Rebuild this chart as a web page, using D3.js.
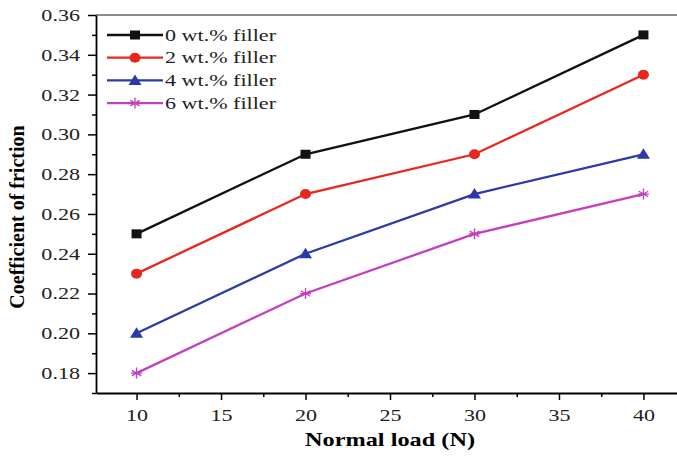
<!DOCTYPE html>
<html>
<head>
<meta charset="utf-8">
<script src="https://cdn.jsdelivr.net/npm/d3@7"></script>
<style>
  body { margin: 0; background: #fff; }
  svg { display: block; }
</style>
</head>
<body>
<div id="chart"></div>
<script>
const loads = [10, 20, 30, 40];
const seriesNames = ['0 wt.% filler', '2 wt.% filler', '4 wt.% filler', '6 wt.% filler'];
const filler0 = [0.25, 0.29, 0.31, 0.35];
const filler2 = [0.23, 0.27, 0.29, 0.33];
const filler4 = [0.20, 0.24, 0.27, 0.29];
const filler6 = [0.18, 0.22, 0.25, 0.27];
const xTicks = [10, 15, 20, 25, 30, 35, 40];
const yTicks = [0.18, 0.20, 0.22, 0.24, 0.26, 0.28, 0.30, 0.32, 0.34, 0.36];

const width = 677;
const height = 458;
const margin = { top: 15, right: -7, bottom: 65, left: 96 };
const font = '"Liberation Serif", "Times New Roman", serif';
const stretch = 1.3; // the source picture is widened horizontally

const colors = ['#111111', '#e8261e', '#2c3aa8', '#c23fc0'];
const symbols = ['square', 'circle', 'triangle', 'star'];
const allSeries = [filler0, filler2, filler4, filler6];

const svg = d3.select('#chart')
  .append('svg')
  .attr('width', width)
  .attr('height', height)
  .style('font-family', font);

const x = d3.scaleLinear()
  .domain([7.6, 42.4])
  .range([margin.left, width - margin.right]);

const y = d3.scaleLinear()
  .domain([0.17, 0.36])
  .range([height - margin.bottom, margin.top]);

// top frame line
svg.append('line')
  .attr('x1', margin.left).attr('x2', width)
  .attr('y1', y(0.36)).attr('y2', y(0.36))
  .attr('stroke', '#666').attr('stroke-width', 1.5);

// minor ticks
const xMinor = d3.range(12.5, 42.6, 5);
svg.append('g')
  .attr('transform', `translate(0, ${y(0.17)})`)
  .call(d3.axisBottom(x).tickValues(xMinor).tickSize(4).tickFormat(''))
  .call(g => g.select('.domain').remove())
  .selectAll('line').attr('stroke-width', 1.5);

const yMinor = d3.range(17, 36, 2).map(v => v / 100);
svg.append('g')
  .attr('transform', `translate(${margin.left}, 0)`)
  .call(d3.axisLeft(y).tickValues(yMinor).tickSize(4).tickFormat(''))
  .call(g => g.select('.domain').remove())
  .selectAll('line').attr('stroke-width', 1.5);

function xAxis(g) {
  g.attr('transform', `translate(0, ${y(0.17)})`)
    .call(d3.axisBottom(x).tickValues(xTicks).tickSize(7).tickPadding(9).tickSizeOuter(0));
  g.select('.domain').attr('stroke-width', 1.8);
  g.selectAll('.tick line').attr('stroke-width', 1.5);
  g.selectAll('.tick text')
    .attr('fill', '#222')
    .style('font-family', font)
    .style('font-size', '17px')
    .attr('transform', `scale(${stretch},1)`);
}

function yAxis(g) {
  g.attr('transform', `translate(${margin.left}, 0)`)
    .call(d3.axisLeft(y).tickValues(yTicks).tickSize(8).tickPadding(8).tickSizeOuter(0)
      .tickFormat(d3.format('.2f')));
  g.select('.domain').attr('stroke-width', 1.8);
  g.selectAll('.tick line').attr('stroke-width', 1.5);
  g.selectAll('.tick text')
    .attr('fill', '#222')
    .style('font-family', font)
    .style('font-size', '17px')
    .attr('x', -16 / stretch)
    .attr('transform', `scale(${stretch},1)`);
}

svg.append('g').call(xAxis);
svg.append('g').call(yAxis);

// axis titles
svg.append('text')
  .attr('transform', `translate(390, 446) scale(1.35,1)`)
  .attr('text-anchor', 'middle')
  .attr('font-weight', 'bold')
  .attr('font-size', '18px')
  .text('Normal load (N)');

svg.append('text')
  .attr('transform', `translate(24, 217) rotate(-90)`)
  .attr('text-anchor', 'middle')
  .attr('font-weight', 'bold')
  .attr('font-size', '20px')
  .text('Coefficient of friction');

function drawMarker(g, kind, color, cx, cy) {
  if (kind === 'square') {
    g.append('rect')
      .attr('x', cx - 5).attr('y', cy - 4.5)
      .attr('width', 10).attr('height', 9)
      .attr('fill', color);
  } else if (kind === 'circle') {
    g.append('ellipse')
      .attr('cx', cx).attr('cy', cy).attr('rx', 5.5).attr('ry', 5)
      .attr('fill', color);
  } else if (kind === 'triangle') {
    g.append('path')
      .attr('d', `M${cx},${cy - 6}L${cx + 6.5},${cy + 4.5}L${cx - 6.5},${cy + 4.5}Z`)
      .attr('fill', color);
  } else {
    const r = 5.5;
    const path = d3.path();
    [0, 60, 120].forEach(a => {
      const t = a * Math.PI / 180;
      path.moveTo(cx - r * Math.sin(t), cy - r * Math.cos(t));
      path.lineTo(cx + r * Math.sin(t), cy + r * Math.cos(t));
    });
    path.moveTo(cx - r, cy);
    path.lineTo(cx + r, cy);
    g.append('path')
      .attr('d', path.toString())
      .attr('stroke', color)
      .attr('stroke-width', 1.3)
      .attr('fill', 'none');
  }
}

const line = d3.line()
  .x((d, i) => x(loads[i]))
  .y(d => y(d));

allSeries.forEach((vals, s) => {
  const g = svg.append('g');
  g.append('path')
    .datum(vals)
    .attr('d', line)
    .attr('fill', 'none')
    .attr('stroke', colors[s])
    .attr('stroke-width', 2.3);
  vals.forEach((v, i) => drawMarker(g, symbols[s], colors[s], x(loads[i]), y(v)));
});

// legend
const legend = svg.append('g').attr('transform', 'translate(107, 35)');
seriesNames.forEach((name, s) => {
  const row = legend.append('g').attr('transform', `translate(0, ${s * 22.7})`);
  row.append('line')
    .attr('x1', 0).attr('x2', 56)
    .attr('y1', 0).attr('y2', 0)
    .attr('stroke', colors[s])
    .attr('stroke-width', 2.3);
  drawMarker(row, symbols[s], colors[s], 28, 0);
  row.append('text')
    .attr('transform', `translate(58, 5.5) scale(${stretch},1)`)
    .attr('font-size', '17px')
    .attr('fill', '#222')
    .text(name);
});
</script>
</body>
</html>
